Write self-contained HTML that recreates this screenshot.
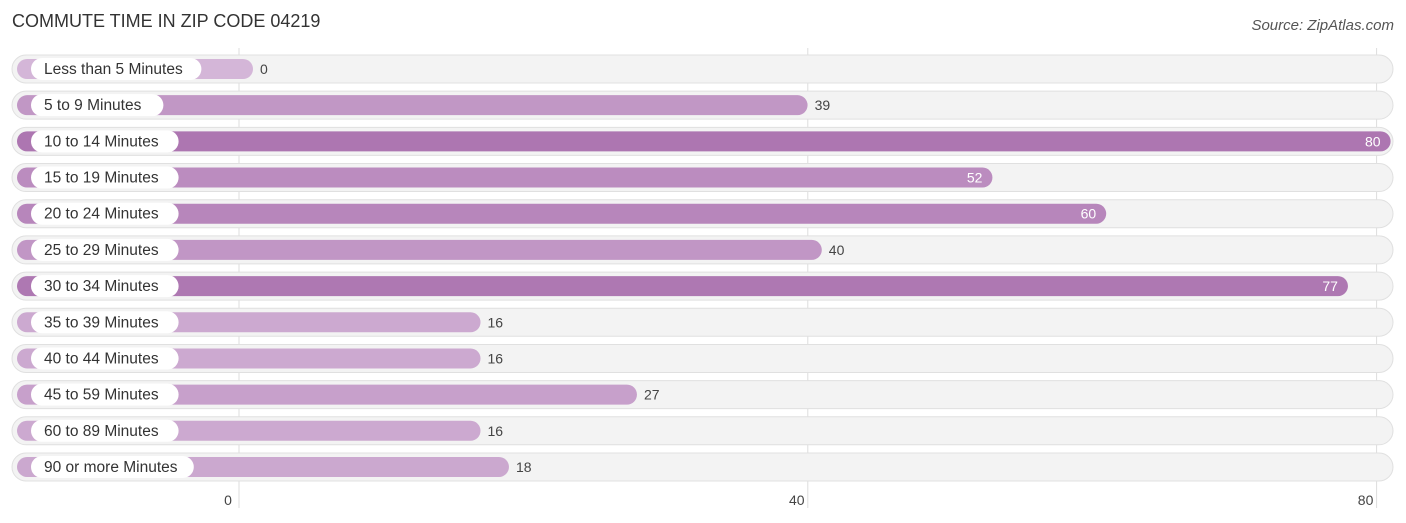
<!DOCTYPE html>
<html><head><meta charset="utf-8"><style>
body{margin:0;background:#fff;font-family:"Liberation Sans",sans-serif;}
svg{display:block}
</style></head><body>
<svg id="c" width="1406" height="523">
<text x="12" y="27" font-size="18" fill="#333">COMMUTE TIME IN ZIP CODE 04219</text>
<text x="1394" y="30" font-size="15" fill="#555" font-style="italic" text-anchor="end">Source: ZipAtlas.com</text>
<g id="grid"></g><g id="rows"></g><g id="ticks"></g>
</svg>
<script>
const categories=["Less than 5 Minutes","5 to 9 Minutes","10 to 14 Minutes","15 to 19 Minutes","20 to 24 Minutes","25 to 29 Minutes","30 to 34 Minutes","35 to 39 Minutes","40 to 44 Minutes","45 to 59 Minutes","60 to 89 Minutes","90 or more Minutes"];
const values=[0,39,80,52,60,40,77,16,16,27,16,18];
const tickValues=[0,40,80];
const NS="http://www.w3.org/2000/svg";
const x0=239,unit=14.22;
function xs(v){return x0+v*unit;}
function yc(i){return 69+i*36.18;}
function mk(t,a,p){const e=document.createElementNS(NS,t);for(const k in a)e.setAttribute(k,a[k]);p.appendChild(e);return e;}
function col(v){const t=Math.min(1,v/80);const a=[212,182,216],b=[173,118,177];return `rgb(${a.map((c,i)=>Math.round(c+(b[i]-c)*t)).join(',')})`;}
const grid=document.getElementById('grid'),rows=document.getElementById('rows'),ticks=document.getElementById('ticks');
tickValues.forEach(v=>{
 const l=mk('line',{x1:xs(v),x2:xs(v),y1:48,y2:508,stroke:'#ddd','stroke-width':1},grid);
 
 
 const t=mk('text',{x:xs(v)-11,y:505,'font-size':14,fill:'#444','text-anchor':'middle'},ticks);
 t.textContent=v;
 
 
});
categories.forEach((c,i)=>{
 const y=yc(i),v=values[i];
 const g=mk('g',{},rows);
 
 
 const tr=mk('rect',{x:12,y:y-14,width:1381,height:28,rx:14,fill:'#f3f3f3',stroke:'#e0e0e0','stroke-width':1},g);
 
 
 const end=xs(v)+14;
 const b=mk('rect',{x:17,y:y-10,width:end-17,height:20,rx:10,fill:col(v)},g);
 
 
 const tw=c.length*7.6+26;
 const p=mk('rect',{x:31,y:y-11,width:tw,height:22,rx:11,fill:'#fff'},g);
 
 
 const lt=mk('text',{x:44,y:y+5,'font-size':15.5,fill:'#333'},g);
 lt.textContent=c;
 
 
 const inside=v>=50;
 const vt=mk('text',{x:inside?end-10:end+7,y:y+5,'font-size':14,fill:inside?'#fff':'#444','text-anchor':inside?'end':'start'},g);
 vt.textContent=v;
 
 
});
</script>
</body></html>
